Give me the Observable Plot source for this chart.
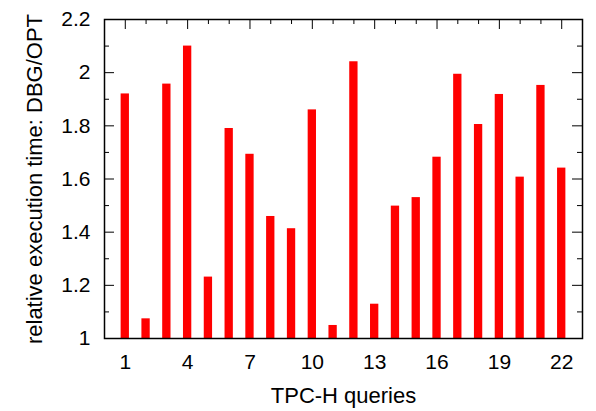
<!DOCTYPE html>
<html><head><meta charset="utf-8">
<script src="https://cdn.jsdelivr.net/npm/d3@7"></script>
<script src="https://cdn.jsdelivr.net/npm/@observablehq/plot@0.6"></script>
<style>html,body{margin:0;padding:0;background:#fff;} #chart{width:596px;height:411px;}</style>
</head><body><div id="chart"></div>
<script>
const queries = [1,2,3,4,5,6,7,8,9,10,11,12,13,14,15,16,17,18,19,20,21,22];
const ratios = [1.920,1.074,1.957,2.100,1.231,1.790,1.693,1.459,1.413,1.860,1.049,2.041,1.129,1.498,1.530,1.682,1.994,1.805,1.918,1.607,1.952,1.641];
const xMajorTicks = [1,4,7,10,13,16,19,22];
const xMinorTicks = [2,3,5,6,8,9,11,12,14,15,17,18,20,21];
const yMajorTicks = [1,1.2,1.4,1.6,1.8,2,2.2];
const yTickLabels = ["1","1.2","1.4","1.6","1.8","2","2.2"];
const yMinorTicks = [1.1,1.3,1.5,1.7,1.9,2.1];
const xLabel = "TPC-H queries";
const yLabel = "relative execution time: DBG/OPT";

const data = queries.map((q, i) => ({q, v: ratios[i]}));

const W = 596, H = 411;
const mL = 104, mR = 14, mT = 19, mB = 73;
const pw = W - mL - mR, ph = H - mT - mB;
const major = 10, minor = 5;
const half = 0.2;

const tickStyle = {stroke: "black", strokeWidth: 1};

const chart = Plot.plot({
  width: W, height: H,
  marginLeft: mL, marginRight: mR, marginTop: mT, marginBottom: mB,
  style: {fontFamily: "'Liberation Sans', Arial, Helvetica, sans-serif", fontSize: "21px", color: "black", background: "white"},
  x: {domain: [0, 23]},
  y: {domain: [1, 2.2]},
  marks: [
    // inward ticks on all four sides
    Plot.tickY(yMajorTicks, {y: d => d, ...tickStyle, insetRight: pw - major}),
    Plot.tickY(yMinorTicks, {y: d => d, ...tickStyle, insetRight: pw - minor}),
    Plot.tickY(yMajorTicks, {y: d => d, ...tickStyle, insetLeft: pw - major}),
    Plot.tickY(yMinorTicks, {y: d => d, ...tickStyle, insetLeft: pw - minor}),
    Plot.tickX(xMajorTicks, {x: d => d, ...tickStyle, insetBottom: ph - major}),
    Plot.tickX(xMinorTicks, {x: d => d, ...tickStyle, insetBottom: ph - minor}),
    Plot.tickX(xMajorTicks, {x: d => d, ...tickStyle, insetTop: ph - major}),
    Plot.tickX(xMinorTicks, {x: d => d, ...tickStyle, insetTop: ph - minor}),
    Plot.rectY(data, {x1: d => d.q - half, x2: d => d.q + half, y1: 1, y2: "v", fill: "#ff0000"}),
    Plot.axisY(yMajorTicks, {anchor: "left", tickSize: 0, tickPadding: 14,
      tickFormat: d => yTickLabels[yMajorTicks.indexOf(d)],
      label: null}),
    Plot.axisY({anchor: "left", ticks: [], tickSize: 0,
      label: yLabel, labelAnchor: "center", labelOffset: 78, labelArrow: "none", fontSize: 22}),
    Plot.axisX(xMajorTicks, {anchor: "bottom", tickSize: 0, tickPadding: 16,
      tickFormat: d => String(d), label: null}),
    Plot.axisX({anchor: "bottom", ticks: [], tickSize: 0,
      label: xLabel, labelAnchor: "center", labelOffset: 64, labelArrow: "none", fontSize: 22}),
    Plot.frame({stroke: "black", strokeWidth: 1.5})
  ]
});
document.getElementById("chart").appendChild(chart);
</script>
</body></html>
